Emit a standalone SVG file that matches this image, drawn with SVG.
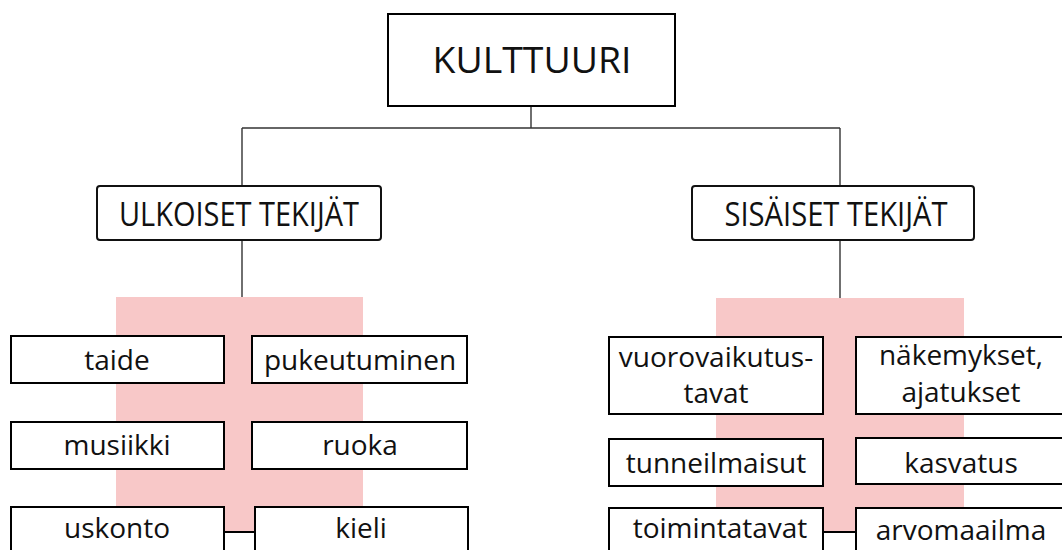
<svg xmlns="http://www.w3.org/2000/svg" width="1062" height="550" viewBox="0 0 1062 550">
<style>
.box{fill:#fff;stroke:#000;stroke-width:2}
.hbox{fill:#fff;stroke:#111;stroke-width:2}
.pink{fill:#f8c8c8}
.conn{stroke:#333;stroke-width:1.4;fill:none}
.t{font-family:"Open Sans","Noto Sans",sans-serif;font-size:28px;fill:#111;text-anchor:middle}
.h{font-family:"Open Sans","Noto Sans",sans-serif;font-size:32px;fill:#111;text-anchor:middle}
.k{font-family:"Open Sans","Noto Sans",sans-serif;font-size:37px;fill:#111;text-anchor:middle}
</style>
<rect width="1062" height="550" fill="#fff"/>
<g id="pink-left">
<path class="pink" d="M116 297 H363 V507 H255 V532 H224 V507 H116 Z"/>
</g>
<g id="pink-right">
<path class="pink" d="M716 298 H964 V508 H856 V532 H823 V508 H716 Z"/>
</g>
<g id="connectors">
<line class="conn" x1="531" y1="106" x2="531" y2="128"/>
<line class="conn" x1="242" y1="128" x2="840" y2="128"/>
<line class="conn" x1="242" y1="128" x2="242" y2="186"/>
<line class="conn" x1="840" y1="128" x2="840" y2="186"/>
<line class="conn" x1="242" y1="240" x2="242" y2="297"/>
<line class="conn" x1="840" y1="240" x2="840" y2="298"/>
<line x1="224" y1="532" x2="255" y2="532" stroke="#000" stroke-width="2"/>
<line x1="823" y1="532" x2="856" y2="532" stroke="#000" stroke-width="2"/>
</g>
<g id="kulttuuri">
<rect class="box" x="388" y="14" width="287" height="92"/>
<text class="k" x="532" y="73" textLength="199" lengthAdjust="spacingAndGlyphs">KULTTUURI</text>
</g>
<g id="ulkoiset">
<rect class="hbox" x="97" y="186" width="284" height="54" rx="3"/>
<text class="h" x="239" y="226" textLength="240" lengthAdjust="spacingAndGlyphs">ULKOISET TEKIJÄT</text>
</g>
<g id="sisaiset">
<rect class="hbox" x="692" y="186" width="282" height="54" rx="3"/>
<text class="h" x="836" y="226" textLength="223" lengthAdjust="spacingAndGlyphs">SISÄISET TEKIJÄT</text>
</g>
<g id="taide">
<rect class="box" x="11" y="336" width="213" height="47"/>
<text class="t" x="117" y="370">taide</text>
</g>
<g id="pukeutuminen">
<rect class="box" x="252" y="336" width="215" height="47"/>
<text class="t" x="360" y="370">pukeutuminen</text>
</g>
<g id="musiikki">
<rect class="box" x="11" y="422" width="213" height="47"/>
<text class="t" x="117" y="455">musiikki</text>
</g>
<g id="ruoka">
<rect class="box" x="252" y="422" width="215" height="47"/>
<text class="t" x="360" y="455">ruoka</text>
</g>
<g id="uskonto">
<rect class="box" x="11" y="507" width="213" height="60"/>
<text class="t" x="117" y="538">uskonto</text>
</g>
<g id="kieli">
<rect class="box" x="255" y="507" width="213" height="60"/>
<text class="t" x="361" y="538">kieli</text>
</g>
<g id="vuorovaikutustavat">
<rect class="box" x="609" y="337" width="214" height="77"/>
<text class="t" x="716" y="367">vuorovaikutus-</text>
<text class="t" x="716" y="403">tavat</text>
</g>
<g id="nakemykset">
<rect class="box" x="856" y="337" width="212" height="77"/>
<text class="t" x="961" y="365">näkemykset,</text>
<text class="t" x="961" y="402">ajatukset</text>
</g>
<g id="tunneilmaisut">
<rect class="box" x="609" y="439" width="214" height="47"/>
<text class="t" x="716" y="473">tunneilmaisut</text>
</g>
<g id="kasvatus">
<rect class="box" x="856" y="438" width="212" height="46"/>
<text class="t" x="961" y="473">kasvatus</text>
</g>
<g id="toimintatavat">
<rect class="box" x="609" y="508" width="214" height="60"/>
<text class="t" x="720" y="538">toimintatavat</text>
</g>
<g id="arvomaailma">
<rect class="box" x="856" y="508" width="212" height="60"/>
<text class="t" x="961" y="540">arvomaailma</text>
</g>
</svg>
